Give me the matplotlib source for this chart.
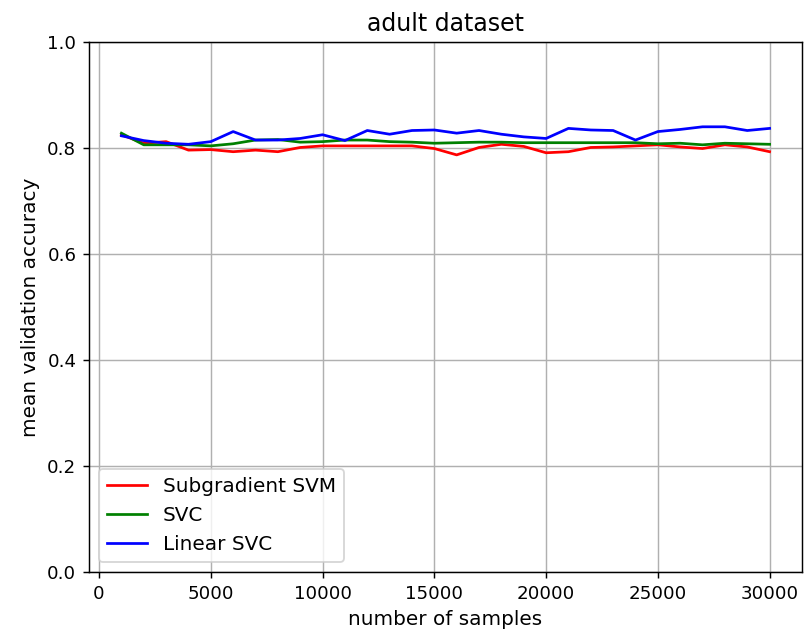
import matplotlib
matplotlib.use('Agg')
from matplotlib import pyplot as plt
import numpy as np

# number of samples
n_samples = np.arange(1000, 30001, 1000)

# mean validation accuracy per method
subgradient_svm = [0.825, 0.809, 0.812, 0.796, 0.797, 0.793, 0.796, 0.793, 0.801, 0.804,
                   0.804, 0.804, 0.804, 0.804, 0.799, 0.787, 0.801, 0.807, 0.803, 0.791,
                   0.793, 0.801, 0.802, 0.804, 0.806, 0.802, 0.799, 0.806, 0.802, 0.793]
svc = [0.828, 0.806, 0.806, 0.806, 0.804, 0.808, 0.815, 0.816, 0.811, 0.812,
       0.815, 0.815, 0.812, 0.811, 0.809, 0.810, 0.811, 0.811, 0.810, 0.810,
       0.810, 0.810, 0.810, 0.810, 0.808, 0.809, 0.806, 0.809, 0.808, 0.807]
linear_svc = [0.823, 0.814, 0.809, 0.807, 0.812, 0.831, 0.815, 0.815, 0.818, 0.825,
              0.814, 0.833, 0.826, 0.833, 0.834, 0.828, 0.833, 0.826, 0.821, 0.818,
              0.837, 0.834, 0.833, 0.815, 0.831, 0.835, 0.840, 0.840, 0.833, 0.837]

dpi = 131
fig = plt.figure(figsize=(804 / dpi, 636 / dpi), dpi=dpi)
ax = fig.add_axes([89 / 804, 64 / 636, 713 / 804, 530 / 636])

ax.plot(n_samples, subgradient_svm, 'r-', label='Subgradient SVM')
ax.plot(n_samples, svc, 'g-', label='SVC')
ax.plot(n_samples, linear_svc, 'b-', label='Linear SVC')

ax.set_ylim(0, 1)
ax.set_title('adult dataset', fontsize=13)
ax.set_xlabel('number of samples', fontsize=11)
ax.set_ylabel('mean validation accuracy', fontsize=11)
ax.grid(True)
ax.legend(loc='lower left', fontsize=11)

plt.savefig('out.png', dpi=dpi)
plt.close()
